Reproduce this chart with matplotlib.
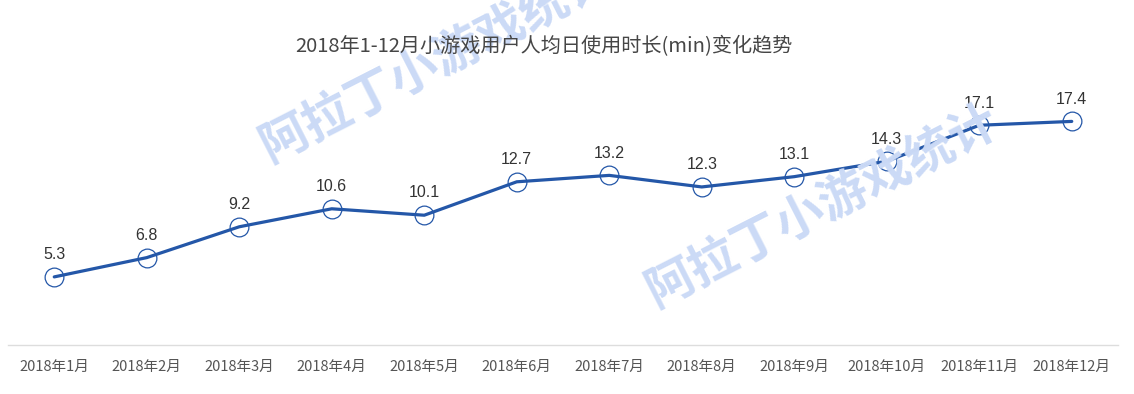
import matplotlib
matplotlib.use("Agg")
import matplotlib.pyplot as plt

plt.rcParams['font.family'] = ['Noto Sans CJK SC', 'DejaVu Sans']

categories = ["2018年1月", "2018年2月", "2018年3月", "2018年4月", "2018年5月", "2018年6月",
              "2018年7月", "2018年8月", "2018年9月", "2018年10月", "2018年11月", "2018年12月"]
values = [5.3, 6.8, 9.2, 10.6, 10.1, 12.7, 13.2, 12.3, 13.1, 14.3, 17.1, 17.4]
title = "2018年1-12月小游戏用户人均日使用时长(min)变化趋势"
watermark = "阿拉丁小游戏统计"

W, H = 1134, 394
fig = plt.figure(figsize=(W / 100, H / 100), dpi=100)
ax = fig.add_axes([8 / W, 49 / H, 1110 / W, (345 - 88) / H])

# watermarks
for (cx, cy) in [(436, 60), (822, 205)]:
    fig.text(cx / W, 1 - cy / H, watermark, rotation=27, fontsize=35, color='#cbdaf6',
             ha='center', va='center', rotation_mode='anchor', zorder=0, fontweight='bold')

x = list(range(len(categories)))
color = '#2457a8'
ax.plot(x, values, linestyle='none', marker='o', markersize=13.5, markerfacecolor='white',
        markeredgecolor=color, markeredgewidth=0.9, zorder=2)
ax.plot(x, values, color=color, linewidth=2.3, zorder=3, solid_capstyle='round')

for xi, v in zip(x, values):
    ax.annotate(f"{v}", (xi, v), xytext=(0, 16), textcoords='offset points',
                ha='center', va='center', fontsize=11.5, color='#333333',
                family=['Liberation Sans', 'DejaVu Sans'])

ax.set_xlim(-0.5, len(categories) - 0.5)
ax.set_ylim(0, 20)
ax.set_xticks(x)
ax.set_xticklabels(categories, fontsize=10.5, color='#555555')
ax.tick_params(axis='x', length=0, pad=11)
ax.set_yticks([])
for s in ['top', 'right', 'left']:
    ax.spines[s].set_visible(False)
ax.spines['bottom'].set_color('#dddddd')
ax.spines['bottom'].set_linewidth(1)
ax.patch.set_alpha(0)

fig.text(544 / W, 1 - 47 / H, title, ha='center', va='center', fontsize=14.5, color='#464646')

fig.savefig("out.png", dpi=100)
